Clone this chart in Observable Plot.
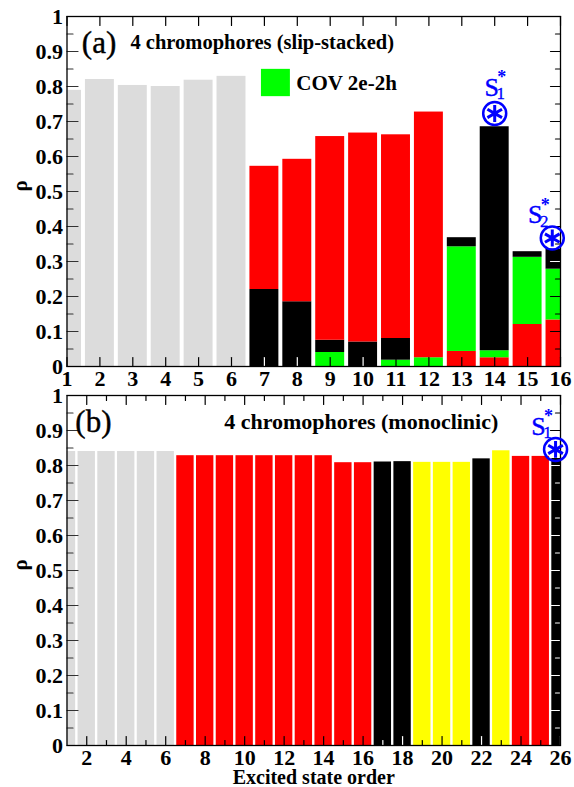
<!DOCTYPE html>
<html><head><meta charset="utf-8">
<script src="https://cdn.jsdelivr.net/npm/d3@7"></script>
<script src="https://cdn.jsdelivr.net/npm/@observablehq/plot@0.6"></script>
<style>html,body{margin:0;padding:0;background:#fff}svg{display:block}#c{position:relative;width:574px;height:787px;overflow:hidden}#c svg+svg{margin-top:-15px;position:relative}</style>
</head><body><div id="c"></div>
<script>
const gray="#dcdcdc",red="#ff0000",green="#00ff00",black="#000000",yellow="#ffff00",blue="#0000ff";
const serif="'Liberation Serif','Times New Roman',serif";
const yMajor=[0,.1,.2,.3,.4,.5,.6,.7,.8,.9,1];
const yMinor=[.05,.15,.25,.35,.45,.55,.65,.75,.85,.95];

// Panel (a): stacked segments, bottom to top, [colour, upper value]
const statesA=[1,2,3,4,5,6,7,8,9,10,11,12,13,14,15,16];
const stacksA=[
 [[gray,.789]],[[gray,.82]],[[gray,.803]],[[gray,.80]],[[gray,.818]],[[gray,.829]],
 [[black,.22],[red,.572]],
 [[black,.185],[red,.592]],
 [[green,.04],[black,.075],[red,.657]],
 [[black,.07],[red,.667]],
 [[green,.018],[black,.08],[red,.662]],
 [[green,.025],[red,.727]],
 [[red,.043],[green,.342],[black,.368]],
 [[red,.025],[green,.045],[black,.685]],
 [[red,.12],[green,.312],[black,.328]],
 [[red,.133],[green,.278],[black,.335]]
];
// Panel (b)
const statesB=d3.range(1,27);
const valuesB=[.84,.84,.84,.84,.84,.84,.828,.828,.828,.828,.828,.828,.828,.828,.808,.808,.81,.811,.809,.809,.809,.819,.842,.826,.826,.82];
const coloursB=[gray,gray,gray,gray,gray,gray,red,red,red,red,red,red,red,red,red,red,black,black,yellow,yellow,yellow,black,yellow,red,red,black];
const stacksB=valuesB.map((v,i)=>[[coloursB[i],v]]);

const segs=(states,stacks)=>states.flatMap((s,i)=>{let lo=0;return stacks[i].map(([c,v])=>{const o={s,lo,hi:v,c};lo=v;return o;});});
const line={draw(c,l){c.moveTo(0,0);c.lineTo(0,-l);}};
const tick=(vals,o)=>Plot.vector(vals,{anchor:"start",shape:line,strokeWidth:1.2,...o});

function panel({states,stacks,xDomain,xMajor,xMinor,xLabels,height,marginTop,marginBottom,rightWhite,extra}){
  const data=segs(states,stacks);
  const base=s=>stacks[states.indexOf(s)][0][0];
  const tickCol=s=>base(s)===black?"#fff":"#000";
  const rc=d=>rightWhite(d)?"#fff":"#000";
  const [xl,xr]=xDomain;
  return Plot.plot({
    width:574,height,marginLeft:66.5,marginRight:14,marginTop,marginBottom,
    x:{domain:xDomain,label:null},y:{domain:[0,1],label:null},
    style:{fontFamily:serif,fontSize:"22px",fontWeight:"bold",color:"#000",background:"transparent"},
    marks:[
      Plot.rect(data,{x1:d=>d.s-.44,x2:d=>d.s+.44,y1:"lo",y2:"hi",fill:"c",clip:true}),
      tick(xMajor,{x:d=>d,y:()=>0,rotate:0,length:9,stroke:tickCol}),
      tick(xMajor,{x:d=>d,y:()=>1,rotate:180,length:9,stroke:"#000"}),
      tick(xMinor,{x:d=>d,y:()=>0,rotate:0,length:5,stroke:tickCol}),
      tick(xMinor,{x:d=>d,y:()=>1,rotate:180,length:5,stroke:"#000"}),
      tick(yMajor,{x:()=>xl,y:d=>d,rotate:90,length:11,stroke:"#333"}),
      tick(yMinor,{x:()=>xl,y:d=>d,rotate:90,length:6,stroke:"#333"}),
      tick(yMajor,{x:()=>xr,y:d=>d,rotate:270,length:10,stroke:rc}),
      tick(yMinor,{x:()=>xr,y:d=>d,rotate:270,length:5,stroke:rc}),
      Plot.axisX(xLabels,{anchor:"bottom",tickSize:0,tickPadding:4,label:null,tickFormat:d=>String(d)}),
      Plot.axisY(yMajor,{anchor:"left",tickSize:0,tickPadding:4,label:null,tickFormat:d=>(d===0||d===1)?String(d):d.toFixed(1)}),
      Plot.frame({stroke:"#000",strokeWidth:1.3}),
      Plot.text(["ρ"],{frameAnchor:"left",dx:-47,rotate:-90,fontSize:21,fontWeight:"bold"}),
      ...extra
    ]
  });
}

const star=(x,y)=>[
  Plot.dot([0],{x:()=>x,y:()=>y,r:11.5,stroke:blue,strokeWidth:2.5,fill:"none"}),
  Plot.dot([0],{x:()=>x,y:()=>y,r:8,symbol:"asterisk",stroke:blue,strokeWidth:3})
];
const sLabel=(x,y,sub,sx,sy)=>[
  Plot.text(["S"],{x:()=>x,y:()=>y,dx:-3+sx,dy:-26+sy,fontSize:26,fill:blue,fontWeight:"normal",stroke:blue,strokeWidth:.4}),
  Plot.text([sub],{x:()=>x,y:()=>y,dx:6+sx,dy:-20+sy,fontSize:17,fill:blue,fontWeight:"normal",stroke:blue,strokeWidth:.3}),
  Plot.text(["*"],{x:()=>x,y:()=>y,dx:7+sx,dy:-36+sy,fontSize:18,fill:blue,fontWeight:"bold"})
];

const a=panel({states:statesA,stacks:stacksA,xDomain:[1,16],xMajor:d3.range(1,17),xMinor:[],xLabels:d3.range(1,17),
  height:395,marginTop:16,marginBottom:29,rightWhite:d=>d>.278&&d<.335,
  extra:[
    Plot.text(["(a)"],{x:()=>1.45,y:()=>.925,fontSize:31,fontWeight:"normal",fill:"#000",stroke:"#000",strokeWidth:.4,textAnchor:"start"}),
    Plot.text(["4 chromophores (slip-stacked)"],{x:()=>2.93,y:()=>.925,fontSize:20.5,textAnchor:"start"}),
    Plot.rect([0],{x1:()=>6.91,x2:()=>7.79,y1:()=>.771,y2:()=>.849,fill:green}),
    Plot.text(["COV 2e-2h"],{x:()=>7.97,y:()=>.81,fontSize:21,textAnchor:"start"}),
    ...star(14,.723),...sLabel(14,.723,"1",0,0),
    ...star(15.75,.367),...sLabel(15.75,.367,"2",-14,3)
  ]});
const b=panel({states:statesB,stacks:stacksB,xDomain:[1,26],xMajor:d3.range(2,27,2),xMinor:d3.range(1,26,2).slice(1),xLabels:d3.range(2,27,2),
  height:407,marginTop:15,marginBottom:42,rightWhite:d=>d<.82,
  extra:[
    Plot.text(["(b)"],{x:()=>2.34,y:()=>.925,fontSize:31,fontWeight:"normal",fill:"#000",stroke:"#000",strokeWidth:.4,textAnchor:"middle"}),
    Plot.text(["4 chromophores (monoclinic)"],{x:()=>8.96,y:()=>.924,fontSize:22,textAnchor:"start"}),
    Plot.text(["Excited state order"],{frameAnchor:"bottom",lineAnchor:"middle",dy:32,fontSize:20,fontWeight:"bold"}),
    ...star(25.75,.846),...sLabel(25.75,.846,"1",-14,3)
  ]});
document.getElementById("c").append(a,b);
</script></body></html>
